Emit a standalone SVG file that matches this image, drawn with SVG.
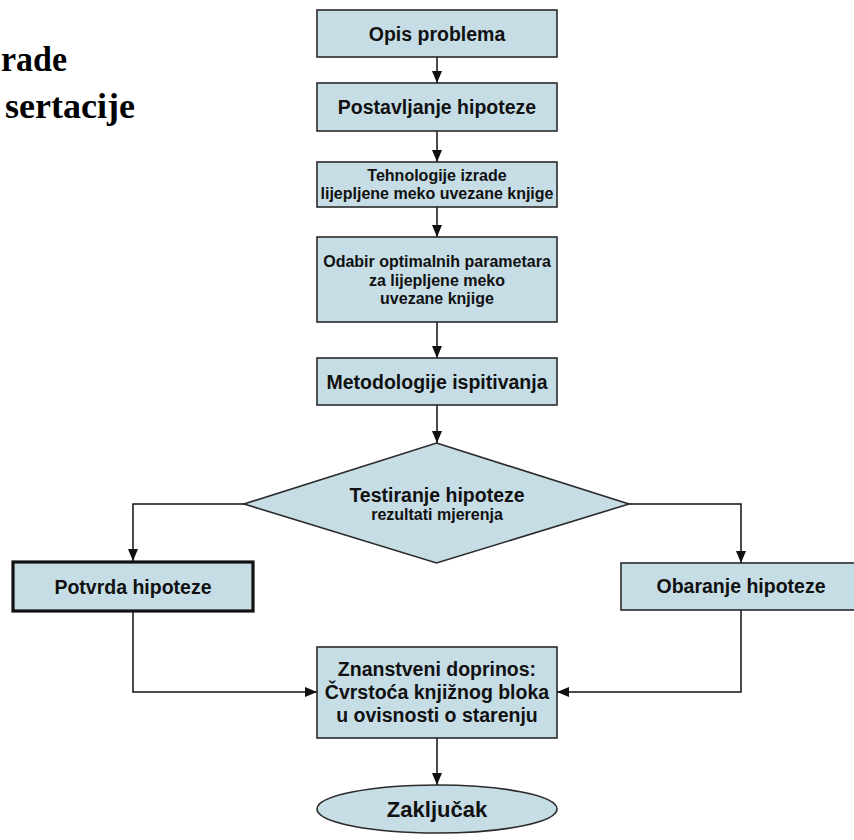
<svg xmlns="http://www.w3.org/2000/svg" width="854" height="840" viewBox="0 0 854 840">
<defs>
<style>
.box{fill:#C6DDE6;stroke:#2a2a2a;stroke-width:1.6}
.thick{stroke:#111;stroke-width:3.2}
.t{font-family:"Liberation Sans",Arial,sans-serif;font-weight:bold;fill:#111;text-anchor:middle}
.f19{font-size:19.5px}
.f16{font-size:16px}
.f22{font-size:22px}
.title{font-family:"Liberation Serif","Times New Roman",serif;font-weight:bold;font-size:36px;fill:#000}
.c{fill:none;stroke:#111;stroke-width:1.5}
</style>
<marker id="ah" viewBox="0 0 12 10" refX="12" refY="5" markerWidth="12" markerHeight="10" markerUnits="userSpaceOnUse" orient="auto">
<path d="M0,0 L12,5 L0,10 z" fill="#111"/>
</marker>
</defs>
<rect width="854" height="840" fill="#fff"/>
<g id="title">
<text class="title" x="1" y="71" textLength="66" lengthAdjust="spacingAndGlyphs">rade</text>
<text class="title" x="5" y="118" textLength="130" lengthAdjust="spacingAndGlyphs">sertacije</text>
</g>
<g id="connectors">
<line class="c" x1="437" y1="57" x2="437" y2="83" marker-end="url(#ah)"/>
<line class="c" x1="437" y1="131" x2="437" y2="162" marker-end="url(#ah)"/>
<line class="c" x1="437" y1="207" x2="437" y2="237" marker-end="url(#ah)"/>
<line class="c" x1="437" y1="322" x2="437" y2="358" marker-end="url(#ah)"/>
<line class="c" x1="437" y1="405" x2="437" y2="443" marker-end="url(#ah)"/>
<polyline class="c" points="244,504 133,504 133,561" marker-end="url(#ah)"/>
<polyline class="c" points="629,504 741,504 741,563" marker-end="url(#ah)"/>
<polyline class="c" points="133,612 133,692 317,692" marker-end="url(#ah)"/>
<polyline class="c" points="741,610 741,692 557,692" marker-end="url(#ah)"/>
<line class="c" x1="437" y1="738" x2="437" y2="785" marker-end="url(#ah)"/>
</g>
<g id="n1">
<rect class="box" x="317" y="10" width="240" height="47"/>
<text class="t f19" x="437" y="40.5">Opis problema</text>
</g>
<g id="n2">
<rect class="box" x="317" y="83" width="240" height="48"/>
<text class="t f19" x="437" y="114">Postavljanje hipoteze</text>
</g>
<g id="n3">
<rect class="box" x="317" y="162" width="240" height="45"/>
<text class="t f16" x="437" y="181">Tehnologije izrade</text>
<text class="t f16" x="437" y="199">lijepljene meko uvezane knjige</text>
</g>
<g id="n4">
<rect class="box" x="317" y="237" width="240" height="85"/>
<text class="t f16" x="437" y="267">Odabir optimalnih parametara</text>
<text class="t f16" x="437" y="285.5">za lijepljene meko</text>
<text class="t f16" x="437" y="304">uvezane knjige</text>
</g>
<g id="n5">
<rect class="box" x="317" y="358" width="240" height="47"/>
<text class="t f19" x="437" y="388.5">Metodologije ispitivanja</text>
</g>
<g id="n6">
<polygon class="box" points="436.5,443 629,504 436.5,563 244,504"/>
<text class="t f19" x="437" y="501.5">Testiranje hipoteze</text>
<text class="t f16" x="437" y="520">rezultati mjerenja</text>
</g>
<g id="n7">
<rect class="box thick" x="13" y="562" width="240" height="49"/>
<text class="t f19" x="133" y="593.5">Potvrda hipoteze</text>
</g>
<g id="n8">
<rect class="box" x="621" y="563" width="240" height="47"/>
<text class="t f19" x="741" y="593">Obaranje hipoteze</text>
</g>
<g id="n9">
<rect class="box" x="317" y="647" width="240" height="91"/>
<text class="t f19" x="437" y="675.5">Znanstveni doprinos:</text>
<text class="t f19" x="437" y="698.5">Čvrstoća knjižnog bloka</text>
<text class="t f19" x="437" y="721.5">u ovisnosti o starenju</text>
</g>
<g id="n10">
<ellipse class="box" cx="437" cy="809" rx="120" ry="24"/>
<text class="t f22" x="437" y="817">Zaključak</text>
</g>
</svg>
